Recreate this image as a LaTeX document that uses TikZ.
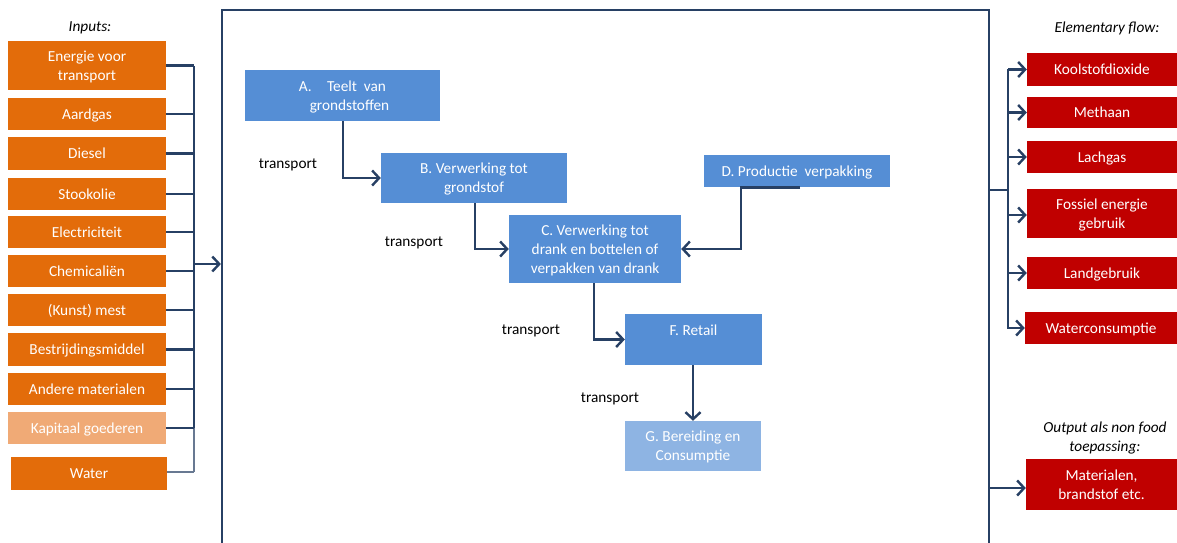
\documentclass[tikz,border=0pt]{standalone}
\usepackage{fontspec}
\setmainfont{Carlito}
\usetikzlibrary{arrows.meta}
\definecolor{navy}{RGB}{39,64,100}
\definecolor{orng}{RGB}{227,108,10}
\definecolor{lorng}{RGB}{240,170,118}
\definecolor{dred}{RGB}{192,0,0}
\definecolor{mblue}{RGB}{85,142,213}
\definecolor{lblue}{RGB}{142,180,227}
\begin{document}
\begin{tikzpicture}[x=1pt,y=-1pt,
  font=\fontsize{15.3}{19}\selectfont,
  boxbase/.style={inner sep=0pt, align=center, text=white, text depth=0pt},
  inbox/.style={boxbase, fill=orng, minimum width=158pt, minimum height=32pt},
  outbox/.style={boxbase, fill=dred, minimum width=150pt, minimum height=32pt},
  procbox/.style={boxbase, fill=mblue},
  lbl/.style={inner sep=0pt, align=center, text=black},
  conn/.style={draw=navy, line width=2.6pt},
  busline/.style={draw=navy, line width=2.3pt},
  arr/.style={conn, -{Straight Barb[length=7pt,width=15pt,line width=2.4pt]}},
]
\useasboundingbox (0,0) rectangle (1177,542);
\fill[white] (0,0) rectangle (1177,542);

% main system boundary
\node[draw=navy, line width=2.2pt, minimum width=767pt, minimum height=600pt, inner sep=0pt] (main) at (605.5,310) {};

% inputs
\node[lbl, font=\fontsize{15.3}{19}\selectfont\itshape] (inlbl) at (90,28) {Inputs:};
\node[inbox, minimum height=49pt] (i1) at (87,65.5) {Energie voor\\transport};
\node[inbox] (i2) at (87,114) {Aardgas};
\node[inbox, minimum height=33pt] (i3) at (87,153.5) {Diesel};
\node[inbox] (i4) at (87,194) {Stookolie};
\node[inbox] (i5) at (87,232) {Electriciteit};
\node[inbox] (i6) at (87,271) {Chemicaliën};
\node[inbox] (i7) at (87,310) {(Kunst) mest};
\node[inbox, minimum height=33pt] (i8) at (87,349.5) {Bestrijdingsmiddel};
\node[inbox] (i9) at (87,389) {Andere materialen};
\node[inbox, fill=lorng] (i10) at (87,428) {Kapitaal goederen};
\node[inbox, minimum width=156pt, minimum height=33pt] (i11) at (89,473.5) {Water};

\coordinate (bustop) at (194,66);
\coordinate (busk) at (194,428);
\coordinate (busbot) at (194,472);
\coordinate (busarr) at (194,264);
\draw[busline] (bustop) -- (busk);
\draw[draw=navy!70, line width=1.3pt] (busk) -- (busbot);
\foreach \n in {i1,i2,i3,i4,i5,i6,i7,i8,i9,i10} {
  \draw[busline] (\n.east) -- (\n.east -| bustop);
}
\draw[draw=navy!70, line width=1.3pt] (i11.east |- busbot) -- (busbot);
\draw[arr] (busarr) -- (busarr -| main.west);

% process boxes
\node[procbox, minimum width=195pt, minimum height=51pt] (A) at (342.5,95.5) {A.\quad Teelt\ \ van\\\hspace*{14pt}grondstoffen};
\node[procbox, minimum width=186pt, minimum height=50pt] (B) at (474,178) {B. Verwerking tot\\grondstof};
\node[procbox, minimum width=172pt, minimum height=68pt] (C) at (595,249) {C. Verwerking tot\\drank en bottelen of\\verpakken van drank};
\node[procbox, minimum width=186pt, minimum height=32pt] (D) at (797,171) {D. Productie\ \ verpakking};
\node[procbox, minimum width=137pt, minimum height=51pt] (F) at (693.5,339.5) {F. Retail\\\mbox{}};
\node[procbox, fill=lblue, minimum width=136pt, minimum height=50pt] (G) at (693,446) {G. Bereiding en\\Consumptie};

\node[lbl] (t1) at (288,165) {transport};
\node[lbl] (t2) at (414,243) {transport};
\node[lbl] (t3) at (531,331) {transport};
\node[lbl] (t4) at (610,399) {transport};

\coordinate (dA) at (343,0);
\coordinate (dB) at (475,0);
\coordinate (dD) at (741,0);
\coordinate (dC) at (594,0);
\coordinate (dF) at (693,0);
\coordinate (dDend) at (800,0);
\draw[arr] (dA |- A.south) -- (dA |- B.west) -- (B.west);
\draw[arr] (dB |- B.south) -- (dB |- C.west) -- (C.west);
\draw[arr] (dDend |- D.south) -- (dD |- D.south) -- (dD |- C.east) -- (C.east);
\draw[arr] (dC |- C.south) -- (dC |- F.west) -- (F.west);
\draw[arr] (dF |- F.south) -- (dF |- G.north);

% elementary flows
\node[lbl, font=\fontsize{15.3}{19}\selectfont\itshape] (eflbl) at (1107,28) {Elementary flow:};
\node[outbox, minimum height=33pt] (o1) at (1102,69.5) {Koolstofdioxide};
\node[outbox, minimum height=31pt] (o2) at (1102,112.5) {Methaan};
\node[outbox] (o3) at (1102,157) {Lachgas};
\node[outbox, minimum height=49pt] (o4) at (1102,213.5) {Fossiel energie\\gebruik};
\node[outbox] (o5) at (1102,273) {Landgebruik};
\node[outbox, minimum width=152pt] (o6) at (1101,328) {Waterconsumptie};

\coordinate (rb) at (1008,190);
\coordinate (rbtop) at (1008,69);
\coordinate (rbbot) at (1008,329);
\draw[conn] (main.east |- rb) -- (rb);
\draw[conn] (rbtop) -- (rbbot);
\foreach \n in {o1,o2,o3,o5,o6} {
  \draw[arr] (rb |- \n.west) -- (\n.west);
}
\draw[arr] (1008,215) -- (o4.west |- 0,215);

% non-food output
\node[lbl, font=\fontsize{15.3}{19}\selectfont\itshape] (nflbl) at (1105,437.5) {Output als non food\\toepassing:};
\node[outbox, minimum width=151pt, minimum height=51pt] (o7) at (1101.5,484.5) {Materialen,\\brandstof etc.};
\coordinate (o7y) at (0,488);
\draw[arr] (main.east |- o7y) -- (o7.west |- o7y);
\end{tikzpicture}
\end{document}
